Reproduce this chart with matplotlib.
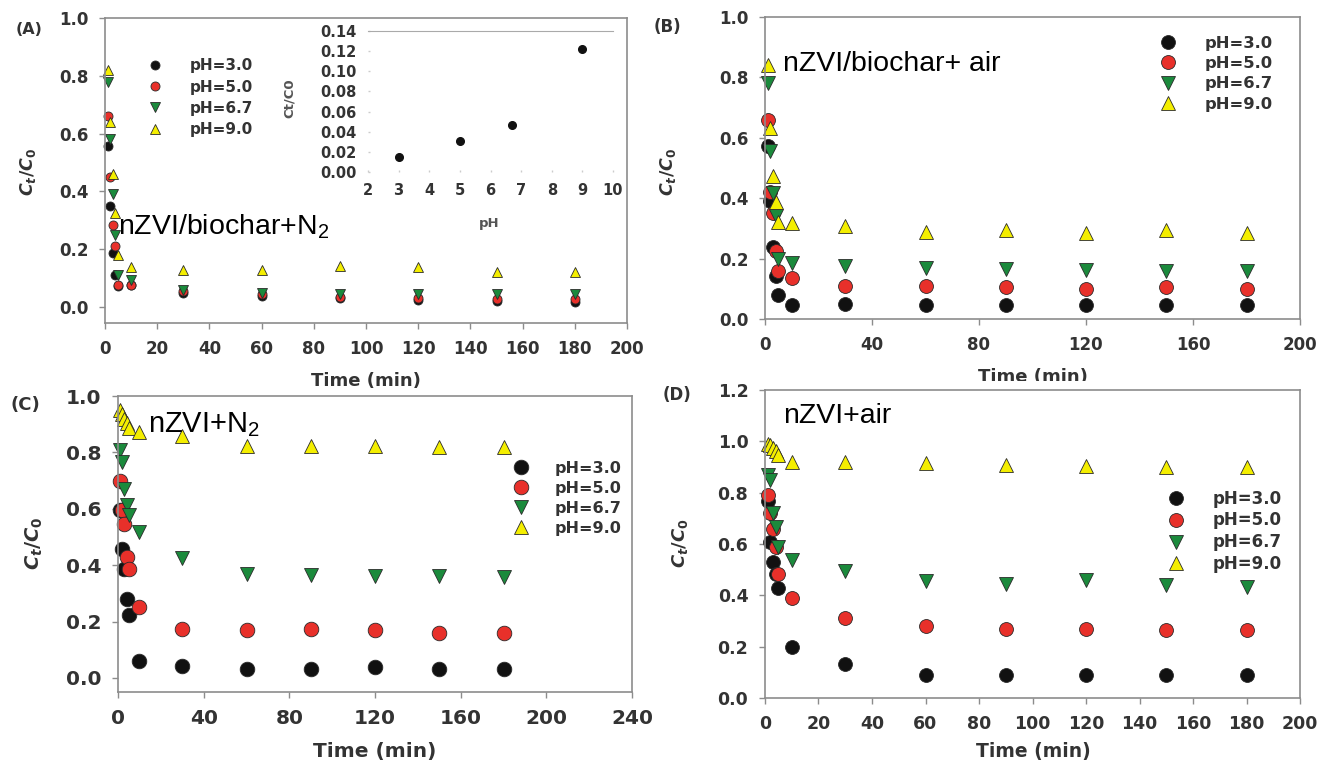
import matplotlib
matplotlib.use('Agg')
import matplotlib.pyplot as plt
from matplotlib.patches import Rectangle

plt.rcParams['font.family'] = ['DejaVu Sans']
plt.rcParams['mathtext.fontset'] = 'custom'
plt.rcParams['mathtext.it'] = 'DejaVu Sans:bold:italic'
plt.rcParams['mathtext.rm'] = 'DejaVu Sans:bold'
plt.rcParams['mathtext.sf'] = 'Liberation Sans'

W, H = 1326, 768

# ---------------- data ----------------
time_min = [1, 2, 3, 4, 5, 10, 30, 60, 90, 120, 150, 180]
ph_labels = ['pH=3.0', 'pH=5.0', 'pH=6.7', 'pH=9.0']

# (A) nZVI/biochar + N2
a_ph3 = [0.557, 0.35, 0.187, 0.11, 0.073, 0.075, 0.05, 0.04, 0.03, 0.025, 0.02, 0.017]
a_ph5 = [0.66, 0.45, 0.284, 0.21, 0.076, 0.075, 0.055, 0.045, 0.035, 0.03, 0.028, 0.028]
a_ph67 = [0.78, 0.58, 0.39, 0.25, 0.11, 0.095, 0.06, 0.05, 0.045, 0.045, 0.045, 0.047]
a_ph9 = [0.82, 0.64, 0.46, 0.325, 0.18, 0.14, 0.13, 0.13, 0.142, 0.14, 0.12, 0.122]

# inset of (A)
inset_ph = [3, 5, 6.7, 9]
inset_ct = [0.015, 0.031, 0.047, 0.122]

# (B) nZVI/biochar + air
b_ph3 = [0.572, 0.39, 0.24, 0.141, 0.08, 0.047, 0.051, 0.045, 0.047, 0.045, 0.047, 0.045]
b_ph5 = [0.66, 0.42, 0.35, 0.224, 0.158, 0.136, 0.11, 0.11, 0.106, 0.10, 0.106, 0.10]
b_ph67 = [0.78, 0.555, 0.417, 0.342, 0.2, 0.185, 0.174, 0.17, 0.165, 0.163, 0.16, 0.16]
b_ph9 = [0.84, 0.632, 0.472, 0.387, 0.32, 0.318, 0.307, 0.287, 0.296, 0.285, 0.296, 0.285]

# (C) nZVI + N2
c_ph3 = [0.595, 0.456, 0.388, 0.279, 0.222, 0.06, 0.043, 0.033, 0.033, 0.037, 0.033, 0.033]
c_ph5 = [0.70, 0.597, 0.546, 0.43, 0.388, 0.25, 0.172, 0.169, 0.172, 0.169, 0.161, 0.161]
c_ph67 = [0.81, 0.765, 0.67, 0.615, 0.577, 0.518, 0.426, 0.367, 0.365, 0.362, 0.36, 0.358]
c_ph9 = [0.95, 0.936, 0.92, 0.905, 0.888, 0.873, 0.858, 0.822, 0.822, 0.822, 0.82, 0.82]

# (D) nZVI + air
d_ph3 = [0.769, 0.609, 0.53, 0.482, 0.43, 0.2, 0.131, 0.091, 0.091, 0.088, 0.091, 0.088]
d_ph5 = [0.79, 0.722, 0.66, 0.59, 0.482, 0.391, 0.313, 0.281, 0.268, 0.267, 0.264, 0.264]
d_ph67 = [0.87, 0.85, 0.72, 0.667, 0.59, 0.537, 0.495, 0.455, 0.446, 0.459, 0.442, 0.433]
d_ph9 = [0.99, 0.986, 0.973, 0.964, 0.947, 0.92, 0.92, 0.914, 0.908, 0.905, 0.899, 0.899]

colors = ['#111111', '#e8302a', '#1b8a3c', '#f4ee00']
markers = ['o', 'o', 'v', '^']

SPINE = '#8c8c8c'
TXT = '#333333'

fig = plt.figure(figsize=(W / 100, H / 100), dpi=100)


def rect(l, r, t, b):
    return [l / W, 1 - b / H, (r - l) / W, (b - t) / H]


def fx(x):
    return x / W


def fy(y):
    return 1 - y / H


def panel(l, r, t, b, xlim, ylim, xticks, yticks, series, ms, fs_tick, pad):
    ax = fig.add_axes(rect(l, r, t, b))
    for vals, c, m, lab in zip(series, colors, markers, ph_labels):
        ax.plot(time_min, vals, linestyle='none', marker=m, ms=ms, mfc=c,
                mec='#2a2a2a', mew=0.6, label=lab, clip_on=False)
    ax.set_xlim(xlim)
    ax.set_ylim(ylim)
    ax.set_xticks(xticks)
    ax.set_yticks(yticks)
    ax.set_xticklabels([f'{v:g}' for v in xticks])
    ax.set_yticklabels([f'{v:.1f}' for v in yticks])
    for s in ax.spines.values():
        s.set_color(SPINE)
        s.set_linewidth(1.2)
    ax.tick_params(direction='out', length=4, width=1, color=SPINE,
                   labelsize=fs_tick, labelcolor=TXT, pad=pad)
    for lbl in ax.get_xticklabels() + ax.get_yticklabels():
        lbl.set_fontweight('bold')
    return ax


def legend(ax, mx, lx, y0, dy, fs):
    fs_px = fs * 100 / 72
    hl = 1.0
    htp = (lx - mx - 0.5 * hl * fs_px) / fs_px
    row_h = 1.0 * fs_px
    ls = (dy - row_h) / fs_px
    ax.legend(loc='upper left',
              bbox_to_anchor=(fx(mx - 0.5 * hl * fs_px), fy(y0 - 0.6 * fs_px)),
              bbox_transform=fig.transFigure, borderaxespad=0, borderpad=0,
              frameon=False, handlelength=hl, handletextpad=htp,
              labelspacing=ls, prop=dict(weight='bold', size=fs),
              labelcolor=TXT, numpoints=1)


# ---------------- (A) ----------------
axA = panel(105, 627, 18, 323, (0, 200), (-0.055, 1.0),
            list(range(0, 201, 20)), [0, 0.2, 0.4, 0.6, 0.8, 1.0],
            [a_ph3, a_ph5, a_ph67, a_ph9], 6.5, 12, 8)
legend(axA, 155, 190, 67.5, 21.5, 11)
fig.text(fx(118), fy(234), 'nZVI/biochar+N$_\\mathsf{2}$', family='Liberation Sans',
         fontsize=20.5, va='baseline', ha='left', color='black')
fig.text(fx(366), fy(381), 'Time (min)', fontsize=13, fontweight='bold',
         color=TXT, ha='center', va='center')
fig.text(fx(28), fy(172), '$C_t/C_0$', fontsize=12.5, rotation=90,
         color=TXT, ha='center', va='center')
fig.text(fx(29), fy(30), '(A)', fontsize=11.5, fontweight='bold', color=TXT,
         ha='center', va='center')

# inset
axI = fig.add_axes(rect(368, 613, 31, 172))
axI.plot(inset_ph, inset_ct, linestyle='none', marker='o', ms=5.5,
         mfc='#111111', mec='#111111')
axI.set_xlim(2, 10)
axI.set_ylim(0, 0.14)
axI.set_xticks(list(range(2, 11)))
axI.set_yticks([0, 0.02, 0.04, 0.06, 0.08, 0.10, 0.12, 0.14])
axI.set_yticklabels([f'{v:.2f}' for v in [0, 0.02, 0.04, 0.06, 0.08, 0.10, 0.12, 0.14]])
for k in ['left', 'right', 'bottom']:
    axI.spines[k].set_visible(False)
axI.spines['top'].set_color('#aaaaaa')
axI.spines['top'].set_linewidth(0.8)
axI.patch.set_alpha(0)
axI.tick_params(direction='in', length=1.5, width=1, color='#cccccc',
                labelsize=10.5, labelcolor=TXT, pad=8)
for lbl in axI.get_xticklabels() + axI.get_yticklabels():
    lbl.set_fontweight('bold')
fig.text(fx(289), fy(98), 'Ct/C0', fontsize=9.5, fontweight='bold', rotation=90,
         color='#555555', ha='center', va='center')
fig.text(fx(489), fy(223), 'pH', fontsize=9.5, fontweight='bold',
         color='#555555', ha='center', va='center')

# ---------------- (B) ----------------
axB = panel(765, 1300, 17, 319, (0, 200), (0, 1.0),
            list(range(0, 201, 40)), [0, 0.2, 0.4, 0.6, 0.8, 1.0],
            [b_ph3, b_ph5, b_ph67, b_ph9], 10, 12, 8)
legend(axB, 1168, 1205, 45.5, 21.7, 11.8)
fig.text(fx(783), fy(71), 'nZVI/biochar+ air', family='Liberation Sans',
         fontsize=20.5, va='baseline', ha='left', color='black')
fig.text(fx(1033), fy(377), 'Time (min)', fontsize=13, fontweight='bold',
         color=TXT, ha='center', va='center')
# the reference crops the lower part of this label
fig.add_artist(Rectangle((fx(950), fy(388)), fx(170), 7 / H, transform=fig.transFigure,
                         facecolor='white', edgecolor='none', zorder=10))
fig.text(fx(668), fy(172), '$C_t/C_0$', fontsize=12.5, rotation=90,
         color=TXT, ha='center', va='center')
fig.text(fx(667), fy(27), '(B)', fontsize=12, fontweight='bold', color=TXT,
         ha='center', va='center')

# ---------------- (C) ----------------
axC = panel(118, 632, 396, 692, (0, 240), (-0.05, 1.0),
            list(range(0, 241, 40)), [0, 0.2, 0.4, 0.6, 0.8, 1.0],
            [c_ph3, c_ph5, c_ph67, c_ph9], 10.5, 14.5, 8)
legend(axC, 521, 555, 470.5, 21, 11.5)
fig.text(fx(148), fy(432), 'nZVI+N$_\\mathsf{2}$', family='Liberation Sans',
         fontsize=21, va='baseline', ha='left', color='black')
fig.text(fx(375), fy(751), 'Time (min)', fontsize=14.5, fontweight='bold',
         color=TXT, ha='center', va='center')
fig.text(fx(34), fy(543), '$C_t/C_0$', fontsize=14, rotation=90,
         color=TXT, ha='center', va='center')
fig.text(fx(25), fy(405), '(C)', fontsize=13, fontweight='bold', color=TXT,
         ha='center', va='center')

# ---------------- (D) ----------------
axD = panel(765, 1300, 390, 698, (0, 200), (0, 1.2),
            list(range(0, 201, 20)), [0, 0.2, 0.4, 0.6, 0.8, 1.0, 1.2],
            [d_ph3, d_ph5, d_ph67, d_ph9], 10, 12.5, 8)
legend(axD, 1176, 1213, 499.5, 20.6, 12)
fig.text(fx(783), fy(423), 'nZVI+air', family='Liberation Sans',
         fontsize=20.5, va='baseline', ha='left', color='black')
fig.text(fx(1033), fy(752), 'Time (min)', fontsize=13.5, fontweight='bold',
         color=TXT, ha='center', va='center')
fig.text(fx(680), fy(543), '$C_t/C_0$', fontsize=13, rotation=90,
         color=TXT, ha='center', va='center')
fig.text(fx(677), fy(395), '(D)', fontsize=12, fontweight='bold', color=TXT,
         ha='center', va='center')

fig.savefig('out.png', dpi=100)
